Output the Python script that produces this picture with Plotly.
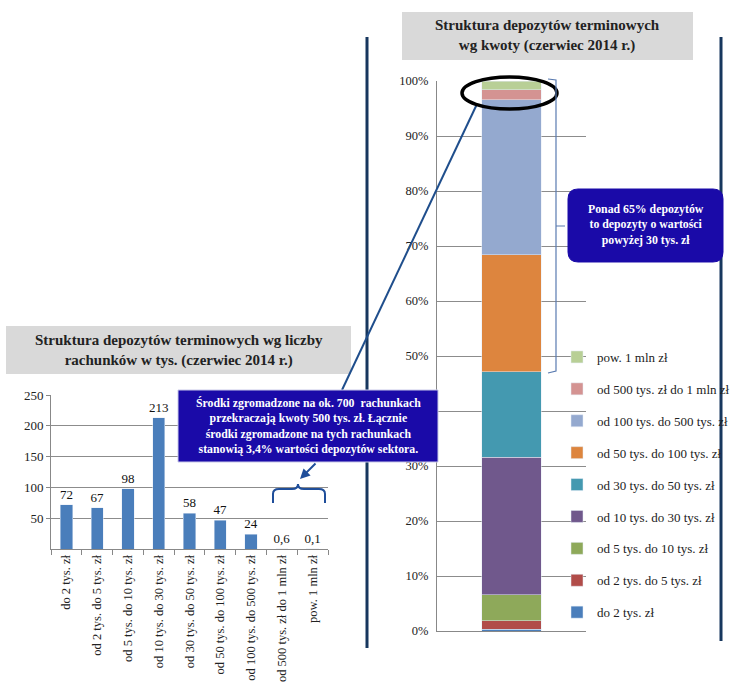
import plotly.graph_objects as go

# lewy wykres - liczba rachunkow w tys.
kategorie = ['do 2 tys. zł', 'od 2 tys. do 5 tys. zł', 'od 5 tys. do 10 tys. zł',
             'od 10 tys. do 30 tys. zł', 'od 30 tys. do 50 tys. zł',
             'od 50 tys. do 100 tys. zł', 'od 100 tys. do 500 tys. zł',
             'od 500 tys. zł do 1 mln zł', 'pow. 1 mln zł']
liczba_rach = [72, 67, 98, 213, 58, 47, 24, 0.6, 0.1]
etykiety = ['72', '67', '98', '213', '58', '47', '24', '0,6', '0,1']

# prawy wykres - struktura wg kwoty (%)
przedzialy = ['do 2 tys. zł', 'od 2 tys. do 5 tys. zł', 'od 5 tys. do 10 tys. zł',
              'od 10 tys. do 30 tys. zł', 'od 30 tys. do 50 tys. zł',
              'od 50 tys. do 100 tys. zł', 'od 100 tys. do 500 tys. zł',
              'od 500 tys. zł do 1 mln zł', 'pow. 1 mln zł']
udzial = [0.3, 1.6, 4.7, 25.0, 15.5, 21.3, 28.2, 1.8, 1.6]
kolory = ['#4a7ebb', '#b14c49', '#8ea95a', '#70588c', '#4499b0',
          '#dd853e', '#94a9cf', '#d49392', '#b8cf96']
# etykiety osi % (40% zasloniete ramka na oryginale)
proc_ticks = [0, 10, 20, 30, 40, 50, 60, 70, 80, 90, 100]
proc_labels = ['0%', '10%', '20%', '30%', '', '50%', '60%', '70%', '80%', '90%', '100%']

W, H = 736, 682
SERIF = 'Liberation Serif'


def px(x):
    return x / W


def py(y):
    return 1 - y / H


def pth(segs):
    # segs: lista (komenda, [(x, y), ...]) w pikselach
    out = []
    for cmd, pts in segs:
        out.append(cmd + ' '.join(f'{px(x):.5f},{py(y):.5f}' for x, y in pts))
    return ' '.join(out)


fig = go.Figure()

fig.add_trace(go.Bar(
    x=kategorie, y=liczba_rach, text=etykiety, textposition='outside',
    textfont=dict(family=SERIF, size=13, color='#111'), constraintext='none',
    marker=dict(color='#4a7ebb'), cliponaxis=False,
    showlegend=False, hoverinfo='skip', xaxis='x', yaxis='y'
))

for i, (nazwa, wart, kol) in enumerate(zip(przedzialy, udzial, kolory)):
    fig.add_trace(go.Bar(
        x=['2014'], y=[wart], name=nazwa, marker=dict(color=kol),
        legendgroup=nazwa, legendrank=100 - i, hoverinfo='skip',
        xaxis='x2', yaxis='y2'
    ))

shapes = []
# jasne tlo (znak wodny)
for pts in [[(500, 0), (575, 0), (360, 682), (270, 682)],
            [(650, 0), (736, 0), (736, 130)],
            [(736, 245), (736, 440), (705, 330)],
            [(380, 480), (420, 330), (430, 560), (395, 640)]]:
    shapes.append(dict(type='path', xref='paper', yref='paper', layer='below',
                       path=pth([('M', [pts[0]]), ('L', pts[1:]), ('Z', [])]),
                       fillcolor='#eef2f9', line=dict(width=0)))
# pionowe linie
for x, y1 in [(367, 648), (721, 641)]:
    shapes.append(dict(type='line', xref='paper', yref='paper',
                       x0=px(x), x1=px(x), y0=py(37), y1=py(y1),
                       line=dict(color='#17375e', width=3)))
# szare tla tytulow
for x0, x1, y0, y1 in [(6, 351, 326, 374), (402, 693, 12, 60)]:
    shapes.append(dict(type='rect', xref='paper', yref='paper',
                       x0=px(x0), x1=px(x1), y0=py(y1), y1=py(y0),
                       fillcolor='#d9d9d9', line=dict(width=0), layer='below'))
# linia od elipsy
shapes.append(dict(type='line', xref='paper', yref='paper',
                   x0=px(477), y0=py(104), x1=px(342), y1=py(390),
                   line=dict(color='#1f4e8c', width=2)))
# elipsa
shapes.append(dict(type='circle', xref='paper', yref='paper',
                   x0=px(462), x1=px(557), y0=py(109), y1=py(77),
                   line=dict(color='black', width=3.5)))
# nawias prawy
shapes.append(dict(type='path', xref='paper', yref='paper',
                   path=pth([('M', [(548, 79)]), ('L', [(556, 80)]), ('L', [(556, 371)]),
                             ('L', [(548, 373)]), ('M', [(556, 226)]), ('L', [(565, 226)])]),
                   line=dict(color='#5a7bb0', width=1.2)))
# klamra lewa
shapes.append(dict(type='path', xref='paper', yref='paper',
                   path=pth([('M', [(273, 503)]), ('L', [(273, 494)]),
                             ('Q', [(273, 489), (279, 489)]), ('L', [(292, 489)]),
                             ('Q', [(298, 489), (298, 484)]),
                             ('Q', [(298, 489), (304, 489)]), ('L', [(319, 489)]),
                             ('Q', [(325, 489), (325, 494)]), ('L', [(325, 503)])]),
                   line=dict(color='#1f4e9a', width=2)))
# ramka lewa
shapes.append(dict(type='rect', xref='paper', yref='paper',
                   x0=px(178), x1=px(438), y0=py(462), y1=py(390),
                   fillcolor='#1a0aa8', line=dict(color='#c8c8e8', width=1)))
# ramka prawa (zaokraglona)
r = 10
shapes.append(dict(type='path', xref='paper', yref='paper',
                   path=pth([('M', [(568 + r, 189)]), ('L', [(723 - r, 189)]),
                             ('Q', [(723, 189), (723, 189 + r)]), ('L', [(723, 262 - r)]),
                             ('Q', [(723, 262), (723 - r, 262)]), ('L', [(568 + r, 262)]),
                             ('Q', [(568, 262), (568, 262 - r)]), ('L', [(568, 189 + r)]),
                             ('Q', [(568, 189), (568 + r, 189)]), ('Z', [])]),
                   fillcolor='#1a0aa8', line=dict(color='#1a0aa8', width=1)))


def napis(text, x, y, size, color):
    return dict(text=text, x=px(x), y=py(y), xref='paper', yref='paper',
                xanchor='center', yanchor='middle', showarrow=False,
                font=dict(family=SERIF, size=size, color=color))


annotations = [
    napis('<b>Struktura depozytów terminowych wg liczby<br>rachunków w tys. (czerwiec 2014 r.)</b>',
          178.5, 350, 15, '#222'),
    napis('<b>Struktura depozytów terminowych<br>wg kwoty (czerwiec 2014 r.)</b>',
          547.5, 36, 15, '#222'),
    napis('<b>Środki zgromadzone na ok. 700  rachunkach<br>przekraczają kwoty 500 tys. zł. Łącznie<br>'
          'środki zgromadzone na tych rachunkach<br>stanowią 3,4% wartości depozytów sektora.</b>',
          308, 426, 11.8, 'white'),
    napis('<b>Ponad 65% depozytów<br>to depozyty o wartości<br>powyżej 30 tys. zł</b>',
          645.5, 225, 11.8, 'white'),
    dict(text='', x=px(300), y=py(479), xref='paper', yref='paper', showarrow=True,
         ax=17, ay=-17, arrowhead=2, arrowsize=1, arrowwidth=2, arrowcolor='#1f4e9a'),
]

fig.update_layout(
    width=W, height=H, margin=dict(l=0, r=0, t=0, b=0, autoexpand=False),
    paper_bgcolor='white', plot_bgcolor='rgba(0,0,0,0)',
    barmode='stack', bargap=0.6,
    font=dict(family=SERIF, size=10, color='#222'),
    xaxis=dict(domain=[px(51), px(328)], anchor='y', type='category', automargin=False,
               tickangle=-90, tickson='boundaries', ticks='outside', ticklen=5,
               tickcolor='#888', showline=True, linecolor='#888',
               tickfont=dict(family=SERIF, size=12.5, color='#222')),
    yaxis=dict(domain=[py(549), py(395)], anchor='x', range=[0, 250], automargin=False,
               tickvals=[50, 100, 150, 200, 250], showgrid=True, gridcolor='#8c8c8c',
               showline=True, linecolor='#888', ticks='outside', ticklen=4,
               tickcolor='#888', zeroline=False,
               tickfont=dict(family=SERIF, size=13, color='#222')),
    xaxis2=dict(domain=[px(437), px(586)], anchor='y2', type='category', automargin=False,
                showticklabels=False, showline=True, linecolor='#888', ticks=''),
    yaxis2=dict(domain=[py(631), py(81)], anchor='x2', range=[0, 100],
                tickvals=proc_ticks, ticktext=proc_labels,
                automargin=False, showgrid=True, gridcolor='#8c8c8c',
                showline=True, linecolor='#888', zeroline=False,
                ticks='outside', ticklen=5, tickcolor='rgba(0,0,0,0)',
                tickfont=dict(family=SERIF, size=12.5, color='#222')),
    legend=dict(x=px(557), y=py(342), xanchor='left', yanchor='top',
                traceorder='grouped', tracegroupgap=12,
                font=dict(family=SERIF, size=13, color='#222'),
                bgcolor='rgba(0,0,0,0)', itemwidth=30),
    shapes=shapes, annotations=annotations,
)

fig.write_html('out.html', config={'displayModeBar': False},
               post_script="document.body.style.margin='0';")
